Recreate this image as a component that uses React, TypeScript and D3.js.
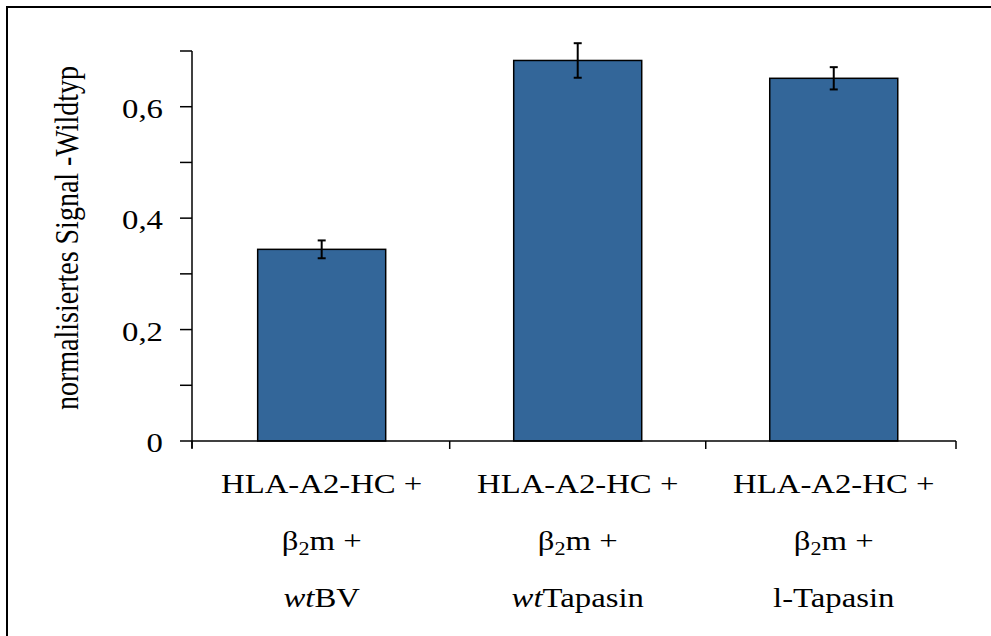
import React, { useEffect, useRef } from "react";
import * as d3 from "d3";

// bar data
const categories = ["wtBV", "wtTapasin", "l-Tapasin"];
const values = [0.344, 0.683, 0.651];
const errors = [0.016, 0.031, 0.02];
const line1 = ["HLA-A2-HC +", "HLA-A2-HC +", "HLA-A2-HC +"];
const line3Italic = ["wt", "wt", ""];
const line3Rest = ["BV", "Tapasin", "l-Tapasin"];
const yTickLabels = [0, 0.2, 0.4, 0.6];
const yTicksAll = [0, 0.1, 0.2, 0.3, 0.4, 0.5, 0.6, 0.7];

const FONT = "'Liberation Serif', 'Times New Roman', serif";
const STRETCH = 1.17; // text in the original is slightly wide

const App = () => {
  const svgRef = useRef<SVGSVGElement>(null);

  useEffect(() => {
    drawChart();
  }, []);

  const drawChart = () => {
    const W = 991;
    const H = 636;
    const margin = { top: 51, right: 35, bottom: 195, left: 192 };
    const width = W - margin.left - margin.right;
    const height = H - margin.top - margin.bottom;

    const root = d3.select(svgRef.current).attr("width", W).attr("height", H);
    root.selectAll("*").remove();

    // outer frame (cut off on right and bottom)
    root
      .append("rect")
      .attr("x", 7)
      .attr("y", 7)
      .attr("width", W + 20)
      .attr("height", H + 20)
      .attr("fill", "none")
      .attr("stroke", "#000")
      .attr("stroke-width", 2);

    const svg = root.append("g").attr("transform", `translate(${margin.left},${margin.top})`);

    const x = d3
      .scaleBand()
      .domain(categories)
      .range([0, width])
      .paddingInner(0.5)
      .paddingOuter(0.242)
      .align(0.53);
    const y = d3.scaleLinear().domain([0, 0.7]).range([height, 0]);

    // bars
    svg
      .selectAll("rect.bar")
      .data(categories)
      .enter()
      .append("rect")
      .attr("class", "bar")
      .attr("x", (d) => x(d)!)
      .attr("y", (d, i) => y(values[i]))
      .attr("width", x.bandwidth())
      .attr("height", (d, i) => y(0) - y(values[i]))
      .attr("fill", "#336699")
      .attr("stroke", "#000")
      .attr("stroke-width", 1.5);

    // error bars
    const eb = svg
      .selectAll("g.err")
      .data(categories)
      .enter()
      .append("g")
      .attr("class", "err")
      .attr("stroke", "#000")
      .attr("stroke-width", 2);
    const cx = (d: string) => x(d)! + x.bandwidth() / 2;
    eb.append("line")
      .attr("x1", cx)
      .attr("x2", cx)
      .attr("y1", (d, i) => y(values[i] + errors[i]))
      .attr("y2", (d, i) => y(values[i] - errors[i]));
    eb.append("line")
      .attr("x1", (d) => cx(d) - 4)
      .attr("x2", (d) => cx(d) + 4)
      .attr("y1", (d, i) => y(values[i] + errors[i]))
      .attr("y2", (d, i) => y(values[i] + errors[i]));
    eb.append("line")
      .attr("x1", (d) => cx(d) - 4)
      .attr("x2", (d) => cx(d) + 4)
      .attr("y1", (d, i) => y(values[i] - errors[i]))
      .attr("y2", (d, i) => y(values[i] - errors[i]));

    // y axis
    svg
      .append("line")
      .attr("x1", 0)
      .attr("x2", 0)
      .attr("y1", y(0.7))
      .attr("y2", y(0) + 7)
      .attr("stroke", "#000")
      .attr("stroke-width", 1.5);
    svg
      .selectAll("line.ytick")
      .data(yTicksAll)
      .enter()
      .append("line")
      .attr("class", "ytick")
      .attr("x1", -12)
      .attr("x2", 0)
      .attr("y1", (d) => y(d))
      .attr("y2", (d) => y(d))
      .attr("stroke", "#000")
      .attr("stroke-width", 1.5);

    const fmt = (d: number) => (d === 0 ? "0" : d.toFixed(1).replace(".", ","));
    svg
      .selectAll("g.ylab")
      .data(yTickLabels)
      .enter()
      .append("g")
      .attr("class", "ylab")
      .attr("transform", (d) => `translate(-29,${y(d) + 11}) scale(${STRETCH},1)`)
      .append("text")
      .attr("text-anchor", "end")
      .style("font-family", FONT)
      .style("font-size", "28px")
      .text(fmt);

    // x axis
    svg
      .append("line")
      .attr("x1", 0)
      .attr("x2", width)
      .attr("y1", y(0))
      .attr("y2", y(0))
      .attr("stroke", "#000")
      .attr("stroke-width", 1.5);
    const gap = x.step() - x.bandwidth();
    const bounds = [0, ...categories.slice(0, -1).map((d) => x(d)! + x.bandwidth() + gap / 2), width];
    svg
      .selectAll("line.xtick")
      .data(bounds)
      .enter()
      .append("line")
      .attr("class", "xtick")
      .attr("x1", (d) => d)
      .attr("x2", (d) => d)
      .attr("y1", y(0))
      .attr("y2", y(0) + 8)
      .attr("stroke", "#000")
      .attr("stroke-width", 1.5);

    // x labels, three lines each
    const xl = svg
      .selectAll("g.xlab")
      .data(categories)
      .enter()
      .append("g")
      .attr("class", "xlab")
      .attr("transform", (d) => `translate(${cx(d)},0) scale(${STRETCH},1)`)
      .style("font-family", FONT)
      .style("font-size", "28px");

    xl.append("text")
      .attr("y", height + 52)
      .attr("text-anchor", "middle")
      .text((d, i) => line1[i]);

    const l2 = xl.append("text").attr("y", height + 109).attr("text-anchor", "middle");
    l2.append("tspan").text("β");
    l2.append("tspan").attr("dy", 5).style("font-size", "19px").text("2");
    l2.append("tspan").attr("dy", -5).text("m +");

    const l3 = xl.append("text").attr("y", height + 166).attr("text-anchor", "middle");
    l3.append("tspan")
      .style("font-style", "italic")
      .text((d, i) => line3Italic[i]);
    l3.append("tspan").text((d, i) => line3Rest[i]);

    // y axis title
    root
      .append("text")
      .attr("transform", `translate(78,238) scale(${STRETCH},1) rotate(-90)`)
      .attr("text-anchor", "middle")
      .style("font-family", FONT)
      .style("font-size", "28px")
      .text("normalisiertes Signal -Wildtyp");
  };

  return (
    <svg
      ref={svgRef}
      style={{ position: "absolute", left: 0, top: 0, overflow: "hidden", background: "#fff" }}
    ></svg>
  );
};

export default App;
